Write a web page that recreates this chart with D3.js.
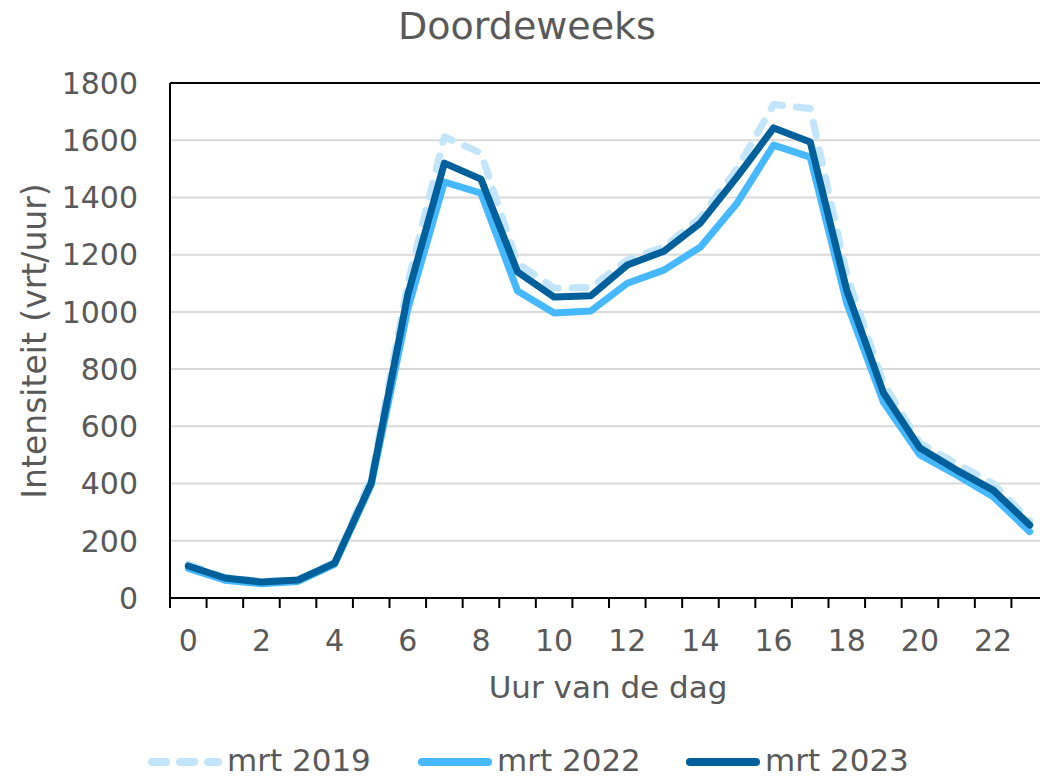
<!DOCTYPE html>
<html>
<head>
<meta charset="utf-8">
<script src="https://cdn.jsdelivr.net/npm/d3@7"></script>
<style>
  body { margin: 0; background: #fff; overflow: hidden; }
  text { font-family: "DejaVu Sans", Verdana, sans-serif; fill: #595959; }
</style>
</head>
<body>
<div id="chart"></div>
<script>
// uur van de dag
var hours = d3.range(0, 24);
var yTicks = [0, 200, 400, 600, 800, 1000, 1200, 1400, 1600, 1800];
var seriesNames = ["mrt 2019", "mrt 2022", "mrt 2023"];

var mrt2019 = [118, 72, 58, 65, 125, 420, 1100, 1612, 1555, 1170, 1083, 1086,
               1181, 1227, 1330, 1500, 1725, 1711, 1130, 750, 541, 470, 400, 270];
var mrt2022 = [103, 62, 50, 58, 118, 395, 1010, 1454, 1415, 1073, 996, 1003,
               1100, 1146, 1227, 1380, 1583, 1541, 1030, 685, 500, 430, 354, 232];
var mrt2023 = [112, 70, 56, 63, 122, 402, 1060, 1520, 1464, 1140, 1052, 1056,
               1164, 1212, 1311, 1472, 1643, 1594, 1075, 718, 524, 447, 377, 255];

var colors = ["#c2e5fb", "#45b8ff", "#00609c"];

var W = 1040, H = 779;
var margin = {top: 83, left: 170};
var width = 878,   // plot runs a bit past the right edge
    height = 515;

var svg = d3.select("#chart").append("svg")
    .attr("width", W).attr("height", H);

var g = svg.append("g")
    .attr("transform", "translate(" + margin.left + "," + margin.top + ")");

var x = d3.scaleBand().domain(hours).range([0, width]).padding(0);
var y = d3.scaleLinear().domain([0, 1800]).range([height, 0]);

// gridlines
g.selectAll(".grid").data(yTicks.slice(1, -1)).enter()
  .append("line")
  .attr("x1", 0).attr("x2", width)
  .attr("y1", function(d) { return y(d); })
  .attr("y2", function(d) { return y(d); })
  .attr("stroke", "#d9d9d9").attr("stroke-width", 2);

// border of plot area
g.append("line").attr("x1", 0).attr("x2", width).attr("y1", 0).attr("y2", 0)
  .attr("stroke", "#000").attr("stroke-width", 2);
g.append("line").attr("x1", 0).attr("x2", 0).attr("y1", 0).attr("y2", height)
  .attr("stroke", "#000").attr("stroke-width", 2);

// y labels
g.selectAll(".ylab").data(yTicks).enter()
  .append("text")
  .attr("x", -32)
  .attr("y", function(d) { return y(d); })
  .attr("dy", "0.36em")
  .attr("text-anchor", "end")
  .style("font-size", "30px")
  .text(function(d) { return d; });

// lines
var line = d3.line()
  .x(function(d, i) { return x(hours[i]) + x.bandwidth() / 2; })
  .y(function(d) { return y(d); });

[mrt2019, mrt2022, mrt2023].forEach(function(s, i) {
  g.append("path")
    .datum(s)
    .attr("d", line)
    .attr("fill", "none")
    .attr("stroke", colors[i])
    .attr("stroke-width", 7)
    .attr("stroke-linejoin", "round")
    .attr("stroke-linecap", "round")
    .attr("stroke-dasharray", i == 0 ? "14,14" : null);
});

// x axis
g.append("line").attr("x1", 0).attr("x2", width).attr("y1", height).attr("y2", height)
  .attr("stroke", "#000").attr("stroke-width", 2);
var tickPos = hours.map(function(h) { return x(h); }).concat([width]);
g.selectAll(".xtick").data(tickPos).enter()
  .append("line")
  .attr("x1", function(d) { return d; }).attr("x2", function(d) { return d; })
  .attr("y1", height).attr("y2", height + 10)
  .attr("stroke", "#000").attr("stroke-width", 2);

g.selectAll(".xlab").data(hours.filter(function(h) { return h % 2 == 0; })).enter()
  .append("text")
  .attr("x", function(d) { return x(d) + x.bandwidth() / 2; })
  .attr("y", height + 53)
  .attr("text-anchor", "middle")
  .style("font-size", "30px")
  .text(function(d) { return d; });

// titles
svg.append("text")
  .attr("x", 527).attr("y", 39)
  .attr("text-anchor", "middle")
  .style("font-size", "38px")
  .text("Doordeweeks");

svg.append("text")
  .attr("x", 608).attr("y", 698)
  .attr("text-anchor", "middle")
  .style("font-size", "31px")
  .text("Uur van de dag");

svg.append("text")
  .attr("transform", "translate(46,341)rotate(-90)")
  .attr("text-anchor", "middle")
  .style("font-size", "33px")
  .text("Intensiteit (vrt/uur)");

// legend
var legX = [148, 418, 686];
var leg = svg.selectAll(".leg").data(seriesNames).enter()
  .append("g")
  .attr("transform", function(d, i) { return "translate(" + legX[i] + ",762)"; });
leg.append("line")
  .attr("x1", 4).attr("x2", 70)
  .attr("stroke", function(d, i) { return colors[i]; })
  .attr("stroke-width", 8)
  .attr("stroke-linecap", "round")
  .attr("stroke-dasharray", function(d, i) { return i == 0 ? "14,14" : null; });
leg.append("text")
  .attr("x", 79).attr("y", 9)
  .style("font-size", "31px")
  .text(function(d) { return d; });
</script>
</body>
</html>
